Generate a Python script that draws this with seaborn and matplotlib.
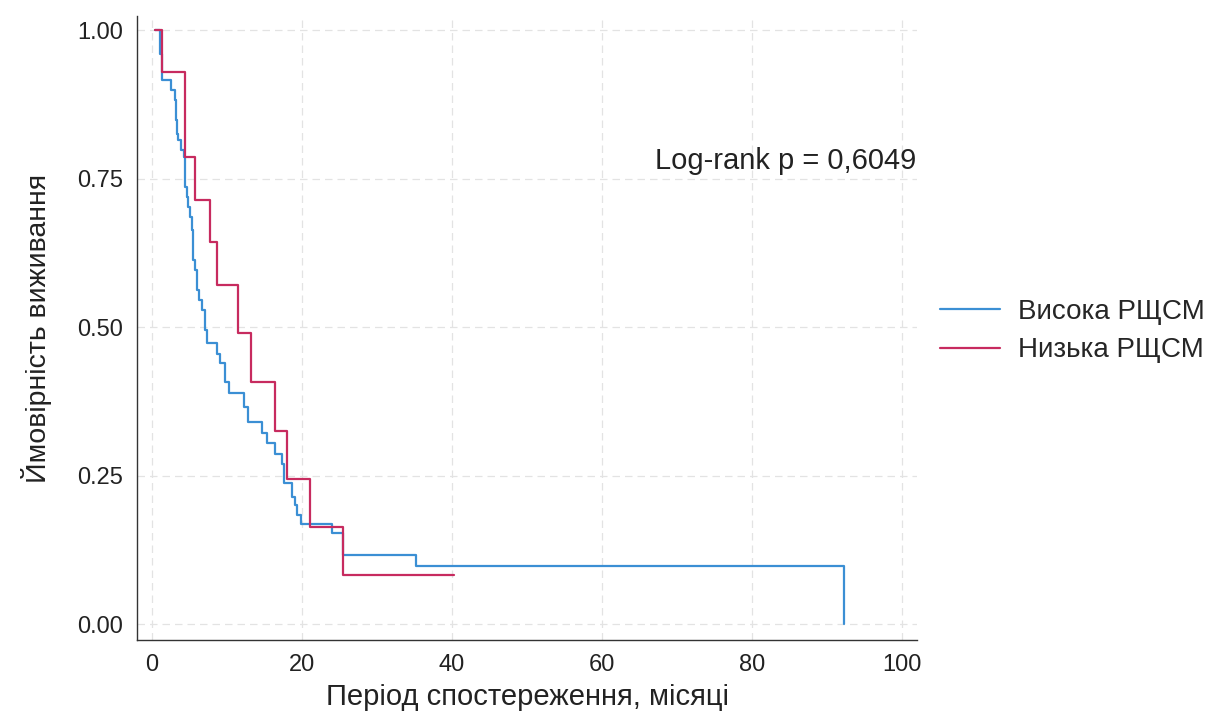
import pandas as pd
import matplotlib
matplotlib.use('Agg')
import matplotlib.pyplot as plt
import seaborn as sns

# Криві Каплана-Мейєра (час у місяцях, ймовірність після кроку)
high_time = [0.4, 1.1, 1.3, 2.5, 3.0, 3.2, 3.3, 3.5, 3.9, 4.2, 4.4, 4.6, 4.8, 5.1,
             5.3, 5.5, 5.7, 6.0, 6.2, 6.6, 7.0, 7.3, 8.6, 9.1, 9.7, 10.2, 12.3,
             12.8, 14.6, 15.3, 16.4, 17.3, 17.6, 18.7, 19.0, 19.3, 19.8, 24.0,
             25.5, 35.2, 92.2]
high_surv = [1.0, 0.96, 0.917, 0.90, 0.882, 0.848, 0.826, 0.815, 0.798, 0.787,
             0.736, 0.72, 0.703, 0.686, 0.663, 0.613, 0.596, 0.562, 0.545, 0.529,
             0.495, 0.474, 0.455, 0.439, 0.408, 0.39, 0.365, 0.341, 0.321, 0.305,
             0.287, 0.27, 0.237, 0.214, 0.2, 0.183, 0.168, 0.153, 0.116, 0.098, 0.0]

low_time = [0.4, 1.3, 4.4, 5.7, 7.7, 8.7, 11.4, 13.2, 16.4, 18.0, 21.1, 25.4, 40.2]
low_surv = [1.0, 0.929, 0.786, 0.714, 0.643, 0.571, 0.49, 0.408, 0.326, 0.245,
            0.163, 0.082, 0.082]

groups = ['Висока РЩСМ', 'Низька РЩСМ']
colors = ['#3b8fd4', '#c72b5f']
x_ticks = [0, 20, 40, 60, 80, 100]
y_ticks = [0.0, 0.25, 0.5, 0.75, 1.0]
y_tick_labels = ['0.00', '0.25', '0.50', '0.75', '1.00']
pvalue_text = 'Log-rank p = 0,6049'

df = pd.concat([
    pd.DataFrame({'time': high_time, 'surv': high_surv, 'group': groups[0]}),
    pd.DataFrame({'time': low_time, 'surv': low_surv, 'group': groups[1]}),
], ignore_index=True)

sns.set_style('white')
plt.rcParams['font.family'] = ['Liberation Sans', 'DejaVu Sans']

fig = plt.figure(figsize=(12.16, 7.25), dpi=100)
ax = fig.add_axes([0.1127, 0.117, 0.6415, 0.861])

sns.lineplot(data=df, x='time', y='surv', hue='group', hue_order=groups,
             palette=colors, estimator=None, sort=False, drawstyle='steps-post',
             linewidth=1.6, ax=ax)

ax.set_xlim(-2, 102)
ax.set_ylim(-0.027, 1.024)
ax.set_xticks(x_ticks)
ax.set_yticks(y_ticks)
ax.set_yticklabels(y_tick_labels)
ax.grid(True, color='#e3e3e3', linestyle=(0, (6, 4)), linewidth=0.9)
ax.set_axisbelow(True)

for side in ['top', 'right']:
    ax.spines[side].set_visible(False)
for side in ['left', 'bottom']:
    ax.spines[side].set_color('#333333')
    ax.spines[side].set_linewidth(1.0)
ax.tick_params(axis='both', direction='out', length=6, width=1.0,
               color='#333333', labelsize=17, labelcolor='#222222', pad=4)

ax.set_xlabel('Період спостереження, місяці', fontsize=21, color='#222222', labelpad=5)
ax.set_ylabel('Ймовірність виживання', fontsize=20.5, color='#222222', labelpad=18)

ax.text(67, 0.78, pvalue_text, fontsize=21, color='#222222', ha='left', va='center')

leg = ax.legend(loc='center left', bbox_to_anchor=(1.0295, 0.495), frameon=False,
                fontsize=20, handlelength=2.15, handletextpad=0.65, labelspacing=0.45,
                borderaxespad=0, borderpad=0)
for line in leg.get_lines():
    line.set_linewidth(1.6)

fig.savefig('out.png', dpi=100)
